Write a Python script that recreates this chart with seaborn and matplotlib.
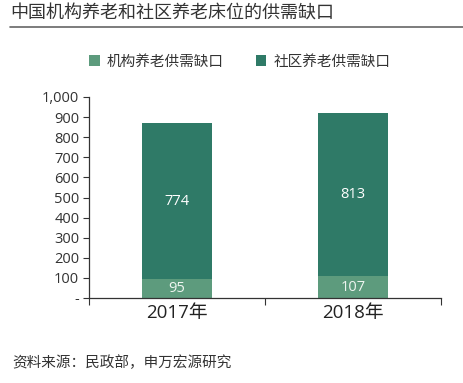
import matplotlib
matplotlib.use("Agg")
import matplotlib.pyplot as plt
import seaborn as sns
import pandas as pd
from matplotlib.lines import Line2D
from matplotlib.patches import Patch
from matplotlib.ticker import FuncFormatter

years = ["2017年", "2018年"]
institutional = [95, 107]
community = [774, 813]
series_names = ["机构养老供需缺口", "社区养老供需缺口"]
yticks = [0, 100, 200, 300, 400, 500, 600, 700, 800, 900, 1000]

sns.set_theme(style="white")
plt.rcParams["font.family"] = ["Open Sans", "Noto Sans CJK SC", "DejaVu Sans"]

c_light = "#5d9b7d"
c_dark = "#2f7a67"

totals = [a + b for a, b in zip(institutional, community)]
df_total = pd.DataFrame({"year": years, "value": totals})
df_bottom = pd.DataFrame({"year": years, "value": institutional})

fig = plt.figure(figsize=(4.64, 3.83), dpi=100)
ax = fig.add_axes([89 / 464, 1 - 298 / 383, (441 - 89) / 464, (298 - 97) / 383])

sns.barplot(data=df_total, x="year", y="value", color=c_dark, width=0.4,
            saturation=1, ax=ax, linewidth=0, edgecolor="none")
sns.barplot(data=df_bottom, x="year", y="value", color=c_light, width=0.4,
            saturation=1, ax=ax, linewidth=0, edgecolor="none")

for i in range(len(years)):
    ax.text(i, institutional[i] / 2, f"{institutional[i]}", ha="center",
            va="center", color="#eef5f0", fontsize=10.5)
    ax.text(i, institutional[i] + community[i] / 2, f"{community[i]}",
            ha="center", va="center", color="white", fontsize=10.5)

ax.set_xlim(-0.5, 1.5)
ax.set_ylim(0, 1000)
ax.set_yticks(yticks)
ax.yaxis.set_major_formatter(FuncFormatter(lambda v, p: "-" if v == 0 else f"{int(v):,}"))
ax.set_xticks([0, 1])
ax.set_xticklabels(years, fontsize=13.5, color="#222222")
ax.tick_params(axis="x", length=0, pad=4)
ax.tick_params(axis="y", length=4, width=0.8, color="#333333", labelsize=10.5,
               labelcolor="#333333", left=True, direction="out", pad=3)
ax.set_xticks([-0.5, 0.5, 1.5], minor=True)
ax.tick_params(axis="x", which="minor", length=5, width=0.8, color="#333333",
               bottom=True, direction="out")
ax.set_xlabel("")
ax.set_ylabel("")
for s in ["top", "right"]:
    ax.spines[s].set_visible(False)
for s in ["left", "bottom"]:
    ax.spines[s].set_color("#333333")
    ax.spines[s].set_linewidth(0.9)

handles = [Patch(facecolor=c_light, edgecolor="none"),
           Patch(facecolor=c_dark, edgecolor="none")]
fig.legend(handles, series_names, loc="center", bbox_to_anchor=(240 / 464, 1 - 62 / 383),
           ncol=2, frameon=False, fontsize=10.5, handlelength=0.7, handleheight=0.7,
           columnspacing=2.2, handletextpad=0.5, labelcolor="#333333")

fig.text(10 / 464, 1 - 14 / 383, "中国机构养老和社区养老床位的供需缺口", fontsize=13,
         ha="left", va="center", color="#333333")
fig.add_artist(Line2D([10 / 464, 1.0], [1 - 27 / 383, 1 - 27 / 383],
                      transform=fig.transFigure, color="#666666", linewidth=1.2))
fig.text(12 / 464, 1 - 364 / 383, "资料来源：民政部，申万宏源研究", fontsize=10.5,
         ha="left", va="center", color="#333333")

fig.savefig("out.png", dpi=100)
